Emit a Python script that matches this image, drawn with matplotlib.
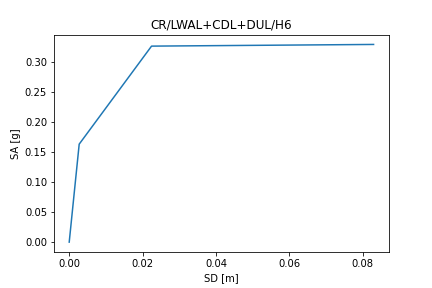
import matplotlib
matplotlib.use('Agg')
import matplotlib.pyplot as plt

# Kapazitaetskurve
sd = [0.0, 0.00272, 0.02245, 0.0830]
sa = [0.0, 0.1633, 0.3267, 0.3295]

fig, ax = plt.subplots(figsize=(6, 4), dpi=72)
fig.subplots_adjust(left=0.125, right=0.9, bottom=0.125, top=0.88)
ax.plot(sd, sa)
ax.set_title('CR/LWAL+CDL+DUL/H6')
ax.set_xlabel('SD [m]')
ax.set_ylabel('SA [g]')

fig.savefig('out.png', dpi=72)
